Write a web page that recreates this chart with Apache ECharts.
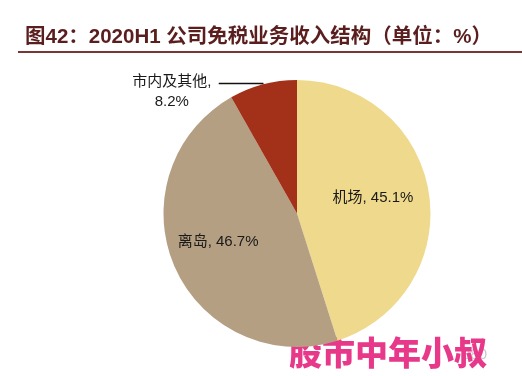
<!DOCTYPE html>
<html><head><meta charset="utf-8">
<script src="https://cdn.jsdelivr.net/npm/echarts@6/dist/echarts.min.js"></script>
<style>html,body{margin:0;padding:0;background:#fff}#c{width:522px;height:376px}</style>
</head><body><div id="c"></div>
<script>
var categories = ['机场', '离岛', '市内及其他'];
var values = [45.1, 46.7, 8.2];
var colors = ['#EFD98C', '#B49F82', '#A3311A'];
var titleText = '图42：2020H1 公司免税业务收入结构（单位：%）';

var chart = echarts.init(document.getElementById('c'));
var font = '"Liberation Sans", "Noto Sans CJK SC", sans-serif';
var data = categories.map(function (n, i) {
  var d = { name: n, value: values[i], itemStyle: { color: colors[i] } };
  if (i === 0) {
    d.label = { position: 'inside', offset: [7, -5] };
  } else if (i === 1) {
    d.label = { position: 'inside', offset: [-15, 0] };
  } else {
    d.label = {
      position: 'outside',
      formatter: '{a|{b},}\n{a|{c}%}',
      padding: [16, 0, 0, 0],
      rich: { a: { width: 84, align: 'center', fontSize: 15, lineHeight: 20, color: '#1a1a1a', fontFamily: font } }
    };
    d.labelLine = { show: true, length: 1, length2: 44, lineStyle: { color: '#111', width: 1.5 } };
  }
  return d;
});

chart.setOption({
  animation: false,
  backgroundColor: '#fff',
  title: {
    text: titleText, left: 20, top: 22,
    textStyle: { fontSize: 20.5, fontWeight: 'bold', color: '#5B1E1E', fontFamily: font }
  },
  graphic: [
    { type: 'rect', shape: { x: 18, y: 51, width: 504, height: 2 }, style: { fill: '#7A3535' } },
    { type: 'text', left: 462, top: 347, style: { text: '380', fill: '#c8c8c8', fontSize: 15, fontFamily: font } },
    { type: 'text', left: 289, top: 336, style: { text: '股市中年小叔', fill: '#E8388A', fontSize: 33, fontWeight: 900, fontFamily: '"Noto Sans CJK SC", sans-serif' } }
  ],
  series: [{
    type: 'pie',
    center: [297, 213.5],
    radius: 133.5,
    startAngle: 90,
    clockwise: true,
    avoidLabelOverlap: false,
    label: {
      show: true, formatter: '{b}, {c}%', fontSize: 15, color: '#1a1a1a', fontFamily: font, distanceToLabelLine: 5
    },
    labelLine: { show: false },
    emphasis: { disabled: true },
    data: data
  }]
});
</script></body></html>
